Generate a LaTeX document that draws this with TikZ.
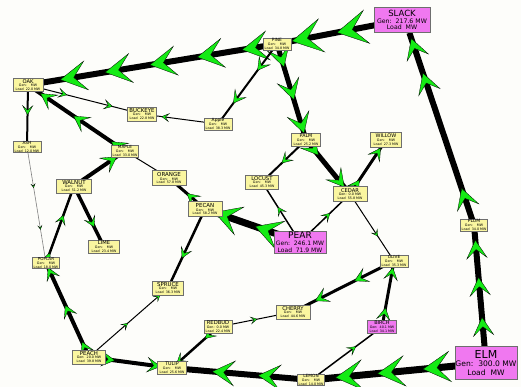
\documentclass[tikz,border=0pt]{standalone}
\usepackage{fontspec}
\setmainfont{DejaVu Sans}
\usetikzlibrary{decorations.markings}
\definecolor{busyellow}{RGB}{250,246,160}
\definecolor{busmag}{RGB}{240,120,240}
\definecolor{boxgray}{RGB}{110,110,110}
\definecolor{flowgreen}{RGB}{20,235,20}
\definecolor{paper}{RGB}{253,253,250}
\pgfdeclarelayer{back}
\pgfdeclarelayer{edges}
\pgfsetlayers{back,edges,main}
\newcommand\BDf{\fontsize{3.3}{3.9}\selectfont}
\newcommand\flowarr[1]{\filldraw[fill=flowgreen,draw=black,line width=0.3pt,line join=miter,solid] (0pt,0pt) -- (-#1pt,0.56*#1pt) -- (-0.52*#1pt,0pt) -- (-#1pt,-0.56*#1pt) -- cycle;}
\newcommand\sbus[9]{\node[#1,minimum width=#5pt,minimum height=#6pt] (#2) at (#3,#4) {{\fontsize{#7}{#7}\selectfont #8}\\#9};}
\tikzset{
  x=1pt,y=-1pt,
  bus/.style={draw=boxgray,line width=0.6pt,inner xsep=0.5pt,inner ysep=0pt,align=center,font=\BDf},
  ybus/.style={bus,fill=busyellow},
  mbus/.style={bus,fill=busmag},
  br/.style={draw=black,line width=#1pt},
  fa/.style 2 args={postaction={decorate,decoration={markings,mark=at position #2 with {\flowarr{#1}}}}},
}
\begin{document}
\begin{tikzpicture}
\begin{pgfonlayer}{back}
\fill[paper] (0,0) rectangle (521,387);
\end{pgfonlayer}
\useasboundingbox (0,0) rectangle (521,387);

% generator / slack buses
\node[mbus,minimum width=56pt,minimum height=25pt,font=\fontsize{6.2}{6.8}\selectfont] (slack) at (402,20)
  {{\fontsize{8.5}{8.5}\selectfont SLACK}\\Gen:~~217.6~MW\\Load~~MW};
\node[mbus,minimum width=62pt,minimum height=33pt,font=\fontsize{7.6}{8.6}\selectfont] (elm) at (486,363)
  {{\fontsize{11}{11}\selectfont ELM}\\Gen:~~300.0~MW\\Load~~MW};
\node[mbus,minimum width=52pt,minimum height=22pt,font=\fontsize{6}{6.8}\selectfont] (pear) at (300,242)
  {{\fontsize{9}{9}\selectfont PEAR}\\Gen:~~246.1~MW\\Load~~71.9~MW};
\sbus{mbus}{birch}{382}{327}{29}{13}{5}{BIRCH}{Gen:~~40.1~MW\\Load~~34.1~MW}

% load buses
\sbus{ybus}{oak}{28}{85}{30}{13}{5.2}{OAK}{Gen:~~~~MW\\Load~~22.0~MW}
\sbus{ybus}{ash}{27}{147}{28}{11}{4.3}{ASH}{Gen:~~~~MW\\Load~~12.0~MW}
\sbus{ybus}{buckeye}{142}{114}{29}{14}{5.4}{BUCKEYE}{Gen:~~~~MW\\Load~~22.8~MW}
\sbus{ybus}{maple}{125}{151}{27}{12}{4.2}{MAPLE}{Gen:~~~~MW\\Load~~33.0~MW}
\sbus{ybus}{pine}{277}{44}{28}{12}{4.4}{PINE}{Gen:~~~~MW\\Load~~34.8~MW}
\sbus{ybus}{apple}{218}{124}{28}{12}{4.4}{Apple}{Gen:~~~~MW\\Load~~38.3~MW}
\sbus{ybus}{palm}{306}{140}{29}{13}{4.8}{PALM}{Gen:~~~~MW\\Load~~25.2~MW}
\sbus{ybus}{willow}{386}{140}{31}{15}{5}{WILLOW}{Gen:~~~~MW\\Load~~27.3~MW}
\sbus{ybus}{locust}{262}{182}{33}{14}{5.3}{LOCUST}{Gen:~~~~MW\\Load~~45.3~MW}
\sbus{ybus}{cedar}{350}{194}{34}{15}{5.2}{CEDAR}{Gen:~~0.0~MW\\Load~~55.8~MW}
\sbus{ybus}{walnut}{74}{186}{35}{14}{5.5}{WALNUT}{Gen:~~~~MW\\Load~~51.2~MW}
\sbus{ybus}{orange}{169}{178}{34}{15}{5.5}{ORANGE}{Gen:~~~~MW\\Load~~57.8~MW}
\sbus{ybus}{pecan}{205}{209}{34}{15}{5.5}{PECAN}{Gen:~~~~MW\\Load~~58.2~MW}
\sbus{ybus}{lime}{104}{247}{31}{13}{5.2}{LIME}{Gen:~~~~MW\\Load~~23.4~MW}
\sbus{ybus}{poplar}{46}{263}{27}{11}{4.1}{POPLAR}{Gen:~~~~MW\\Load~~18.0~MW}
\sbus{ybus}{spruce}{168}{288}{31}{14}{5.4}{SPRUCE}{Gen:~~~~MW\\Load~~36.3~MW}
\sbus{ybus}{peach}{89}{357}{33}{14}{5.4}{PEACH}{Gen:~~20.0~MW\\Load~~39.8~MW}
\sbus{ybus}{tulip}{172}{368}{29}{13}{4.8}{TULIP}{Gen:~~~~MW\\Load~~25.6~MW}
\sbus{ybus}{redbud}{218}{327}{28}{13}{5.2}{REDBUD}{Gen:~~0.0~MW\\Load~~22.4~MW}
\sbus{ybus}{cherry}{293}{312}{34}{14}{5.3}{CHERRY}{Gen:~~~~MW\\Load~~44.6~MW}
\sbus{ybus}{olive}{394}{261}{28}{12}{4.2}{OLIVE}{Gen:~~~~MW\\Load~~35.3~MW}
\sbus{ybus}{lemon}{311}{380}{27}{11}{4.3}{LEMON}{Gen:~~~~MW\\Load~~14.0~MW}
\sbus{ybus}{plum}{474}{225}{27}{12}{4.6}{PLUM}{Gen:~~~~MW\\Load~~34.0~MW}

\begin{pgfonlayer}{edges}
\draw[br=6,fa={30}{0.52},fa={30}{0.88}] (slack.center) -- (pine.center);
\draw[br=6,fa={26}{0.14},fa={26}{0.32},fa={26}{0.51},fa={26}{0.69},fa={26}{0.87}] (pine.center) -- (oak.center);
\draw[br=5,fa={20}{0.24},fa={20}{0.58},fa={20}{0.93}] (pine.center) -- (palm.center);
\draw[br=2,fa={12}{0.33},fa={12}{0.74}] (pine.center) -- (apple.center);
\draw[br=1,fa={7}{0.74}] (apple.center) -- (buckeye.center);
\draw[br=1,fa={8}{0.34},fa={8}{0.74}] (oak.center) -- (buckeye.center);
\draw[br=2,fa={9}{0.48}] (oak.center) -- (ash.center);
\draw[br=4,fa={15}{0.14},fa={15}{0.53},fa={15}{0.87}] (maple.center) -- (oak.center);
\draw[br=0.6,draw=gray,fa={3.5}{0.35},fa={3.5}{0.71}] (ash.center) -- (poplar.center);
\draw[br=4,fa={15}{0.84}] (walnut.center) -- (maple.center);
\draw[br=1] (maple.center) -- (orange.center);
\draw[br=3,fa={12}{0.5}] (pecan.center) -- (orange.center);
\draw[br=7,fa={26}{0.47},fa={26}{0.9}] (pear.center) -- (pecan.center);
\draw[br=2.5,fa={10}{0.62}] (pecan.center) -- (spruce.center);
\draw[br=2.5,fa={9}{0.13},fa={9}{0.62}] (poplar.center) -- (walnut.center);
\draw[br=3.5,fa={10}{0.67}] (walnut.center) -- (lime.center);
\draw[br=4,fa={12}{0.16},fa={12}{0.55},fa={12}{0.95}] (peach.center) -- (poplar.center);
\draw[br=1,fa={6}{0.49},fa={6}{0.9}] (peach.center) -- (spruce.center);
\draw[br=4,fa={13}{0.31},fa={13}{0.86}] (peach.center) -- (tulip.center);
\draw[br=6,fa={22}{0.38},fa={22}{0.71}] (lemon.center) -- (tulip.center);
\draw[br=7,fa={27}{0.36},fa={27}{0.62},fa={27}{0.86}] (elm.center) -- (lemon.center);
\draw[br=2.5,fa={10}{0.28},fa={10}{0.9}] (redbud.center) -- (tulip.center);
\draw[br=1,fa={6}{0.52}] (redbud.center) -- (cherry.center);
\draw[br=3,fa={13}{0.39},fa={13}{0.78}] (olive.center) -- (cherry.center);
\draw[br=3,fa={12}{0.29},fa={12}{0.9}] (birch.center) -- (olive.center);
\draw[br=1.5,fa={8}{0.63}] (lemon.center) -- (birch.center);
\draw[br=6,fa={18}{0.33},fa={18}{0.62},fa={18}{0.89}] (elm.center) -- (plum.center);
\draw[br=6,fa={20}{0.19},fa={20}{0.79},fa={20}{0.97}] (plum.center) -- (slack.-60);
\draw[br=5,fa={17}{0.28},fa={17}{0.87}] (palm.center) -- (cedar.center);
\draw[br=2,fa={10}{0.55}] (palm.center) -- (locust.center);
\draw[br=3,fa={12}{0.26},fa={12}{0.85}] (cedar.center) -- (willow.center);
\draw[br=1.5,fa={8}{0.58}] (pear.center) -- (locust.center);
\draw[br=1.5,fa={8}{0.6}] (pear.center) -- (cedar.center);
\draw[br=1,fa={6}{0.63}] (cedar.center) -- (olive.center);
\end{pgfonlayer}
\end{tikzpicture}
\end{document}
